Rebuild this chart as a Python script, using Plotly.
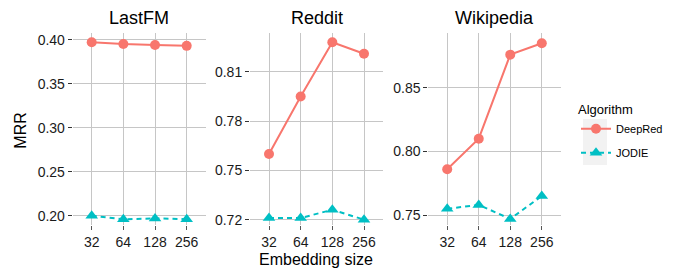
import plotly.graph_objects as go

sizes = ["32", "64", "128", "256"]
datasets = ["LastFM", "Reddit", "Wikipedia"]
deepred = {
    "LastFM": [0.397, 0.395, 0.394, 0.393],
    "Reddit": [0.760, 0.795, 0.828, 0.821],
    "Wikipedia": [0.786, 0.810, 0.876, 0.885],
}
jodie = {
    "LastFM": [0.200, 0.196, 0.197, 0.196],
    "Reddit": [0.721, 0.721, 0.726, 0.720],
    "Wikipedia": [0.755, 0.758, 0.747, 0.765],
}
y_ranges = {
    "LastFM": [0.1896, 0.4073],
    "Reddit": [0.7168, 0.8335],
    "Wikipedia": [0.7423, 0.8928],
}
y_ticks = {
    "LastFM": [0.20, 0.25, 0.30, 0.35, 0.40],
    "Reddit": [0.72, 0.75, 0.78, 0.81],
    "Wikipedia": [0.75, 0.80, 0.85],
}

# page body has an 8px default margin; work in screen pixels and shift
OFF = 8
W, H = 680 - OFF, 275 - OFF


def px(x):
    return (x - OFF) / W


def py(y):
    return 1 - (y - OFF) / H


x_px = [(72.7, 205.7), (250, 383), (428.3, 560.7)]
y_dom = [py(227), py(31.7)]

RED = "#F8766D"
CYAN = "#00BFC4"
GRID = "#C6C6C6"
TICKFONT = dict(size=14, color="#1a1a1a")

fig = go.Figure()
for i, ds in enumerate(datasets):
    ax = "" if i == 0 else str(i + 1)
    fig.add_trace(go.Scatter(
        x=sizes, y=deepred[ds], mode="lines+markers", name="DeepRed",
        line=dict(color=RED, width=2), marker=dict(symbol="circle", size=10, color=RED),
        xaxis="x" + ax, yaxis="y" + ax, showlegend=(i == 0), legendgroup="DeepRed",
    ))
    fig.add_trace(go.Scatter(
        x=sizes, y=jodie[ds], mode="lines+markers", name="JODIE",
        line=dict(color=CYAN, width=2, dash="5px,4px"), marker=dict(symbol="triangle-up", size=11, color=CYAN),
        xaxis="x" + ax, yaxis="y" + ax, showlegend=(i == 0), legendgroup="JODIE",
    ))
    x0, x1 = x_px[i]
    fig.layout["xaxis" + ax] = dict(
        domain=[px(x0), px(x1)], anchor="y" + ax, type="category",
        range=[-0.6, 3.6], showgrid=True, gridcolor=GRID, gridwidth=1,
        ticks="outside", ticklen=4, tickcolor="#555", zeroline=False,
        showline=False, tickfont=TICKFONT,
    )
    fig.layout["yaxis" + ax] = dict(
        domain=list(y_dom), anchor="x" + ax, range=y_ranges[ds],
        tickvals=y_ticks[ds], tickformat=".2f",
        showgrid=True, gridcolor=GRID, gridwidth=1,
        ticks="outside", ticklen=4, tickcolor="#333", zeroline=False,
        showline=False, tickfont=TICKFONT,
    )
    fig.add_annotation(
        text=ds, x=px((x0 + x1) / 2), y=py(16), xref="paper", yref="paper",
        showarrow=False, font=dict(size=18, color="#000"), xanchor="center", yanchor="middle",
    )

fig.add_annotation(text="MRR", x=px(21), y=py(131), xref="paper", yref="paper",
                   showarrow=False, textangle=-90, font=dict(size=16, color="#000"),
                   xanchor="center", yanchor="middle")
fig.add_annotation(text="Embedding size", x=px(316), y=py(262), xref="paper", yref="paper",
                   showarrow=False, font=dict(size=16, color="#000"),
                   xanchor="center", yanchor="middle")

# legend key background
fig.add_shape(type="rect", xref="paper", yref="paper",
              x0=px(583), x1=px(607), y0=py(166), y1=py(119),
              fillcolor="#F2F2F2", line=dict(width=0), layer="below")

fig.update_layout(
    width=W, height=H, margin=dict(l=0, r=0, t=0, b=0),
    paper_bgcolor="white", plot_bgcolor="white",
    font=dict(family="Liberation Sans, Arial, sans-serif", color="#000"),
    legend=dict(
        x=px(576), y=py(97), xanchor="left", yanchor="top",
        title=dict(text="Algorithm", font=dict(size=13)),
        font=dict(size=11), itemwidth=30, tracegroupgap=5,
        bgcolor="rgba(0,0,0,0)",
    ),
)

fig.write_html("out.html")
